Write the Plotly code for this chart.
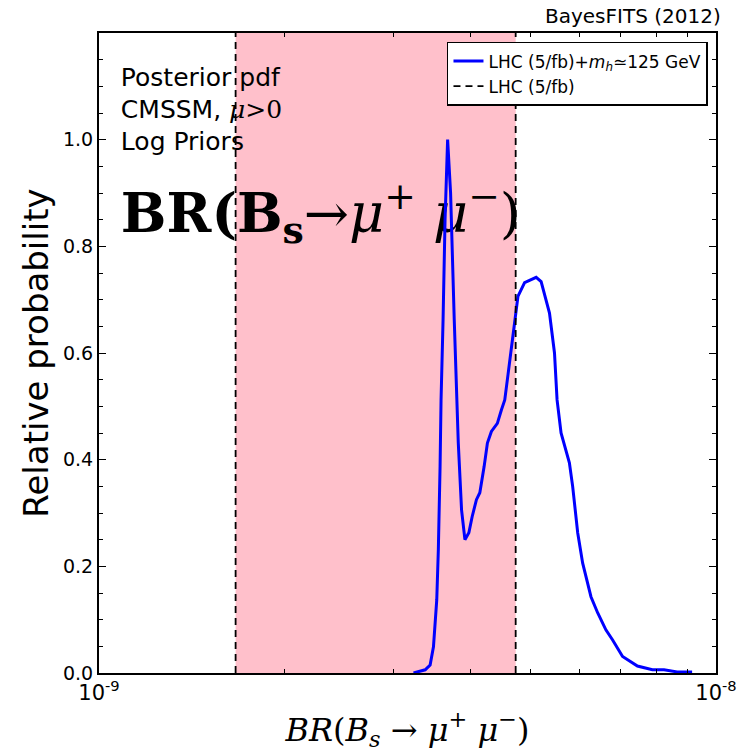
import plotly.graph_objects as go

# Data
br_values = [3.234e-9, 3.378e-9, 3.441e-9, 3.484e-9, 3.527e-9, 3.548e-9, 3.571e-9, 3.584e-9,
             3.611e-9, 3.638e-9, 3.673e-9, 3.714e-9, 3.765e-9, 3.798e-9, 3.822e-9, 3.869e-9,
             3.918e-9, 3.976e-9, 4.025e-9, 4.090e-9, 4.142e-9, 4.209e-9, 4.261e-9, 4.325e-9,
             4.422e-9, 4.489e-9, 4.546e-9, 4.602e-9, 4.718e-9, 4.775e-9, 4.895e-9, 5.111e-9,
             5.207e-9, 5.372e-9, 5.473e-9, 5.526e-9, 5.609e-9, 5.786e-9, 5.857e-9, 5.968e-9,
             6.080e-9, 6.271e-9, 6.429e-9, 6.630e-9, 6.799e-9, 7.056e-9, 7.459e-9, 7.886e-9,
             8.236e-9, 8.651e-9, 9.147e-9]
prob_values = [0.0, 0.006, 0.015, 0.049, 0.137, 0.231, 0.387, 0.512,
               0.662, 0.850, 1.0, 0.90, 0.662, 0.512, 0.432, 0.306,
               0.250, 0.263, 0.293, 0.325, 0.338, 0.387, 0.431, 0.453,
               0.468, 0.493, 0.512, 0.56, 0.662, 0.706, 0.732, 0.742,
               0.734, 0.675, 0.600, 0.512, 0.450, 0.394, 0.350, 0.263,
               0.206, 0.143, 0.113, 0.081, 0.062, 0.031, 0.013, 0.006,
               0.006, 0.002, 0.002]

lhc_band = [1.665e-9, 4.735e-9]
x_range = [1e-9, 1e-8]
y_range = [0.0, 1.2]
y_major = [0.0, 0.2, 0.4, 0.6, 0.8, 1.0]
y_major_labels = ["0.0", "0.2", "0.4", "0.6", "0.8", "1.0"]
y_minor = [round(0.05 * i, 2) for i in range(0, 25)]
x_major = [1e-9, 1e-8]
x_major_labels = ["10<sup>-9</sup>", "10<sup>-8</sup>"]
x_minor = [k * 1e-9 for k in range(2, 10)]

# in-plot text block (anchor positions in data coordinates)
info_lines = ["Posterior pdf",
              "CMSSM, <span style='font-family:DejaVu Serif'><i>μ</i>>0</span>",
              "Log Priors"]
info_x = 1.085e-9
info_y = [1.113, 1.053, 0.993]
big_label = "<b>BR(B<sub>s</sub></b>→<i>μ</i><sup>+</sup> <i>μ</i><sup>−</sup>)"
big_y = 0.852

SERIF = "DejaVu Serif"
SANS = "DejaVu Sans"

fig = go.Figure()

fig.add_shape(type="rect", xref="x", yref="paper",
              x0=lhc_band[0], x1=lhc_band[1], y0=0, y1=1,
              fillcolor="#FFC0CB", line_width=0, layer="below")

# text drawn first so that the curves lie on top of it (as in the reference)
fig.add_trace(go.Scatter(
    x=[info_x] * 3, y=info_y, mode="text", text=info_lines,
    textposition="middle right", textfont=dict(family=SANS, size=25, color="black"),
    showlegend=False, hoverinfo="skip", cliponaxis=False,
))
fig.add_trace(go.Scatter(
    x=[info_x], y=[big_y], mode="text", text=[big_label],
    textposition="middle right", textfont=dict(family=SERIF, size=54, color="black"),
    showlegend=False, hoverinfo="skip", cliponaxis=False,
))

fig.add_trace(go.Scatter(
    x=br_values, y=prob_values, mode="lines",
    line=dict(color="#0000FF", width=3),
    name="LHC (5/fb)+<i>m</i><sub><i>h</i></sub>≃125 GeV",
))

fig.add_trace(go.Scatter(
    x=[lhc_band[0], lhc_band[0], None, lhc_band[1], lhc_band[1]],
    y=[y_range[0], y_range[1], None, y_range[0], y_range[1]],
    mode="lines",
    line=dict(color="black", width=1.8, dash="7px,5px"),
    name="LHC (5/fb)",
))

fig.update_layout(
    width=749, height=754,
    margin=dict(l=99, r=30, t=33, b=81),
    plot_bgcolor="white", paper_bgcolor="white",
    font=dict(family=SANS, size=18, color="black"),
    showlegend=True,
    legend=dict(x=0.987, y=0.986, xanchor="right", yanchor="top",
                bgcolor="white", bordercolor="black", borderwidth=1.5,
                font=dict(family=SANS, size=17), tracegroupgap=0),
    xaxis=dict(
        type="log", range=[-9, -8],
        tickmode="array", tickvals=x_major, ticktext=x_major_labels,
        ticks="inside", ticklen=8, tickwidth=1.2, tickcolor="black",
        minor=dict(tickmode="array", tickvals=x_minor, ticks="inside",
                   ticklen=4, tickwidth=1, tickcolor="black", showgrid=False),
        showline=True, linecolor="black", linewidth=2, mirror="ticks",
        showgrid=False, zeroline=False,
        tickfont=dict(family=SANS, size=21),
        title=dict(text="<i>BR</i>(<i>B</i><sub><i>s</i></sub> → <i>μ</i><sup>+</sup> <i>μ</i><sup>−</sup>)",
                   font=dict(family=SERIF, size=32), standoff=14),
    ),
    yaxis=dict(
        range=y_range,
        tickmode="array", tickvals=y_major, ticktext=y_major_labels,
        ticks="inside", ticklen=7, tickwidth=1.2, tickcolor="black",
        minor=dict(tickmode="array", tickvals=y_minor, ticks="inside",
                   ticklen=4, tickwidth=1, tickcolor="black", showgrid=False),
        showline=True, linecolor="black", linewidth=2, mirror="ticks",
        showgrid=False, zeroline=False,
        tickfont=dict(family=SANS, size=19),
        title=dict(text="Relative probability", font=dict(family=SANS, size=34), standoff=4),
    ),
)

fig.add_annotation(xref="paper", yref="paper", showarrow=False,
                   text="BayesFITS (2012)", x=1.012, y=1.026,
                   xanchor="right", yanchor="middle",
                   font=dict(family=SANS, size=20))

fig.write_html("out.html")
